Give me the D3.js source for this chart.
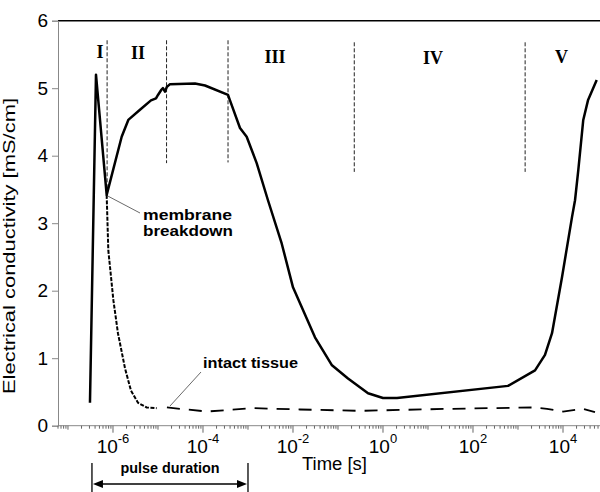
<!DOCTYPE html>
<html><head><meta charset="utf-8">
<script src="https://cdn.jsdelivr.net/npm/d3@7/dist/d3.min.js"></script>
<style>body{margin:0;background:#fff}svg{display:block}</style>
</head><body><svg id="c" width="600" height="492"></svg>
<script>
// ---- data ----
const mainTime = [3.08e-7,4.19e-7,7.24e-7,1.56e-6,2.19e-6,3.98e-6,6.98e-6,9.03e-6,1.0e-5,1.17e-5,
  1.29e-5,1.43e-5,1.58e-5,1.85e-5,6.64e-5,1.11e-4,3.6e-4,3.98e-4,6.64e-4,9.35e-4,
  1.56e-3,2.78e-3,5.61e-3,0.01,0.0308,0.0724,0.167,0.465,1.0,2.05,
  600,2390,3980,5700,9500,15850,18500,21900,28200,35900,56100];
const mainCond = [0.34,5.2,3.42,4.28,4.53,4.68,4.82,4.85,4.9,4.97,
  5.0,4.95,5.02,5.06,5.07,5.04,4.9,4.82,4.41,4.28,
  3.89,3.34,2.7,2.05,1.31,0.9,0.7,0.48,0.41,0.41,
  0.59,0.82,1.05,1.37,2.2,3.09,3.34,3.79,4.53,4.82,5.12];
const intactEarlyTime = [7.24e-7,7.87e-7,1.02e-6,1.29e-6,1.85e-6,2.51e-6,3.6e-6,5.61e-6,9.35e-6];
const intactEarlyCond = [3.42,2.6,1.86,1.37,0.85,0.52,0.34,0.27,0.26];
const intactLateTime = [1.58e-5,1.21e-4,1.29e-3,0.0143,0.308,30.8,2150,4410,10000,27800,51400];
const intactLateCond = [0.27,0.21,0.26,0.24,0.22,0.25,0.27,0.25,0.21,0.25,0.2];
const dividerTime = [7.4e-7,1.55e-5,3.6e-4,0.23,1440];
const dividerTop = [5.71,5.71,5.71,5.68,5.68];
const dividerBottom = [3.42,3.89,3.9,3.76,3.76];
const phaseLabels = ["I","II","III","IV","V"];
const phaseTime = [5.14e-7,3.6e-6,3.98e-3,12.9,9260];
const yTicks = [0,1,2,3,4,5,6];
const xLabelExp = [-6,-4,-2,0,2,4];
const pulseStart = 3.41e-7, pulseEnd = 1.0e-3;

// ---- layout ----
const svg = d3.select("#c");
const x = d3.scaleLog().domain([6e-8, 6.64e4]).range([58, 600]);
const y = d3.scaleLinear().domain([0, 6]).range([425.7, 20.7]);
const font = "Arial, 'Liberation Sans', sans-serif";

// top border
svg.append("line").attr("x1",58).attr("x2",600).attr("y1",y(6)).attr("y2",y(6))
  .attr("stroke","#000").attr("stroke-width",1.5);

// y axis
const ya = svg.append("g").attr("transform","translate(58,0)")
  .call(d3.axisLeft(y).tickValues(yTicks).tickSize(6).tickPadding(4).tickFormat(d3.format("d")));
ya.select(".domain").attr("stroke","#888");
ya.selectAll(".tick line").attr("stroke","#888");
ya.selectAll("text").attr("font-family",font).attr("font-size",19).attr("fill","#000");

// x axis: minor ticks
const minors = [], decades = [];
for (let e = -8; e <= 4; e++) {
  decades.push(Math.pow(10,e));
  for (let m = 2; m <= 9; m++) minors.push(m*Math.pow(10,e));
}
const dom = x.domain();
const inDom = v => v >= dom[0]*0.999 && v <= dom[1]*1.001;
const xg = svg.append("g").attr("transform","translate(0,425.7)");
xg.append("line").attr("x1",58).attr("x2",600).attr("stroke","#888");
xg.selectAll("line.minor").data(minors.filter(inDom)).join("line").attr("class","minor")
  .attr("x1",d=>x(d)).attr("x2",d=>x(d)).attr("y1",0).attr("y2",3).attr("stroke","#666");
xg.selectAll("line.major").data(decades.filter(inDom)).join("line").attr("class","major")
  .attr("x1",d=>x(d)).attr("x2",d=>x(d)).attr("y1",0)
  .attr("y2",d=> (Math.round(Math.log10(d))%2===0) ? 7 : 4).attr("stroke","#666");
const xl = xg.selectAll("text.xl").data(xLabelExp).join("text").attr("class","xl")
  .attr("x",d=>x(Math.pow(10,d))).attr("y",27).attr("text-anchor","middle")
  .attr("font-family",font).attr("font-size",19);
xl.append("tspan").text("10");
xl.append("tspan").attr("dy",-10).attr("font-size",13).text(d=>d<0?"-"+(-d):d);

svg.append("text").attr("x",302).attr("y",470).attr("font-family",font).attr("font-size",18)
  .attr("textLength",65).attr("lengthAdjust","spacingAndGlyphs").text("Time [s]");
svg.append("text").attr("transform","translate(15,246) rotate(-90)").attr("text-anchor","middle")
  .attr("font-family",font).attr("font-size",17)
  .attr("textLength",296).attr("lengthAdjust","spacingAndGlyphs")
  .text("Electrical conductivity  [mS/cm]");

// dividers
svg.selectAll("line.div").data(dividerTime).join("line").attr("class","div")
  .attr("x1",d=>x(d)).attr("x2",d=>x(d))
  .attr("y1",(d,i)=>y(dividerTop[i])).attr("y2",(d,i)=>y(dividerBottom[i]))
  .attr("stroke","#222").attr("stroke-width",1).attr("stroke-dasharray","4,2");

// phase labels
const phaseY = [58,59,62.5,64,63];
svg.selectAll("text.ph").data(phaseLabels).join("text").attr("class","ph")
  .attr("x",(d,i)=>x(phaseTime[i])).attr("y",(d,i)=>phaseY[i]).attr("text-anchor","middle")
  .attr("font-family","'Liberation Serif','Times New Roman',serif").attr("font-weight","bold")
  .attr("font-size",18).text(d=>d);

const line = d3.line().x(d=>x(d[0])).y(d=>y(d[1]));
// intact tissue
svg.append("path").datum(intactEarlyTime.map((t,i)=>[t,intactEarlyCond[i]]))
  .attr("d",line).attr("fill","none").attr("stroke","#000").attr("stroke-width",2)
  .attr("stroke-dasharray","4,1.5");
svg.append("path").datum(intactLateTime.map((t,i)=>[t,intactLateCond[i]]))
  .attr("d",line).attr("fill","none").attr("stroke","#000").attr("stroke-width",1.8)
  .attr("stroke-dasharray","13,9");
// main curve
svg.append("path").datum(mainTime.map((t,i)=>[t,mainCond[i]]))
  .attr("d",line).attr("fill","none").attr("stroke","#000").attr("stroke-width",2.5)
  .attr("stroke-linejoin","round");

// annotations
svg.append("line").attr("x1",x(7.4e-7)+1).attr("y1",y(3.4)).attr("x2",140).attr("y2",213)
  .attr("stroke","#444").attr("stroke-width",0.8);
svg.append("text").attr("x",143).attr("y",220).attr("font-family",font).attr("font-weight","bold")
  .attr("font-size",14.5).attr("textLength",89).attr("lengthAdjust","spacingAndGlyphs").text("membrane");
svg.append("text").attr("x",143).attr("y",236.2).attr("font-family",font).attr("font-weight","bold")
  .attr("font-size",14.5).attr("textLength",90).attr("lengthAdjust","spacingAndGlyphs").text("breakdown");
svg.append("line").attr("x1",170).attr("y1",406).attr("x2",201).attr("y2",372)
  .attr("stroke","#444").attr("stroke-width",0.8);
svg.append("text").attr("x",203).attr("y",368).attr("font-family",font).attr("font-weight","bold")
  .attr("font-size",15).attr("textLength",95).attr("lengthAdjust","spacingAndGlyphs").text("intact tissue");

// pulse duration
const px1 = x(pulseStart), px2 = x(pulseEnd);
[px1,px2].forEach(p=>svg.append("line").attr("x1",p).attr("x2",p).attr("y1",463).attr("y2",492)
  .attr("stroke","#000").attr("stroke-width",1.3));
svg.append("line").attr("x1",px1+8).attr("x2",px2-8).attr("y1",484).attr("y2",484)
  .attr("stroke","#000").attr("stroke-width",1.3);
svg.append("path").attr("d",`M${px1+1},484 L${px1+11},480 L${px1+11},488 Z`).attr("fill","#000");
svg.append("path").attr("d",`M${px2-1},484 L${px2-11},480 L${px2-11},488 Z`).attr("fill","#000");
svg.append("text").attr("x",(px1+px2)/2).attr("y",473).attr("text-anchor","middle")
  .attr("font-family",font).attr("font-weight","bold").attr("font-size",14)
  .attr("textLength",99).attr("lengthAdjust","spacingAndGlyphs").text("pulse duration");
</script></body></html>
